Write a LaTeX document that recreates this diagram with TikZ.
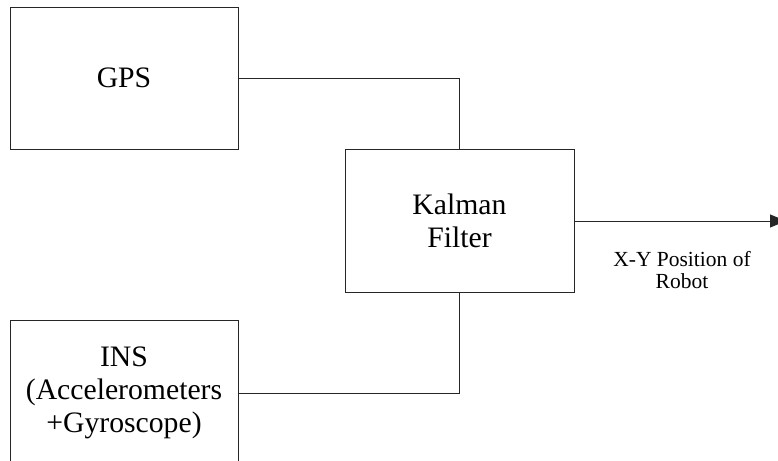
\documentclass[tikz,border=0pt]{standalone}
\usepackage{fontspec}
\setmainfont{Liberation Serif}
\usetikzlibrary{arrows.meta}
\begin{document}
\begin{tikzpicture}[x=1pt,y=-1pt,
  blockbox/.style={draw=black!85, line width=0.9pt, align=center, inner sep=0pt,
    font=\fontsize{29.7}{33}\selectfont},
  link/.style={draw=black!85, line width=0.9pt},
  caption/.style={align=center, inner sep=0pt, font=\fontsize{21.5}{22}\selectfont}]
  \clip (0,0) rectangle (778,460);
  \fill[white] (0,0) rectangle (778,460);
  % sensor and filter blocks
  \node[blockbox, minimum width=228pt, minimum height=142pt] (gps) at (124,78) {GPS};
  \node[blockbox, minimum width=229pt, minimum height=143pt] (kf) at (459.5,221) {Kalman\\Filter};
  \node[blockbox, minimum width=228pt, minimum height=146pt] (ins) at (124,393)
    {INS\\(Accelerometers\\+Gyroscope)};
  % connections into the filter
  \draw[link] (gps.east) -| (kf.north);
  \draw[link] (ins.east) -| (kf.south);
  % filter output, its head running off the right edge
  \coordinate (out) at (786,221);
  \draw[link, -{Triangle[length=16pt,width=13pt]}] (kf.east) -- (out);
  \node[caption] (lbl) at (682,270) {X-Y Position of\\Robot};
\end{tikzpicture}
\end{document}
